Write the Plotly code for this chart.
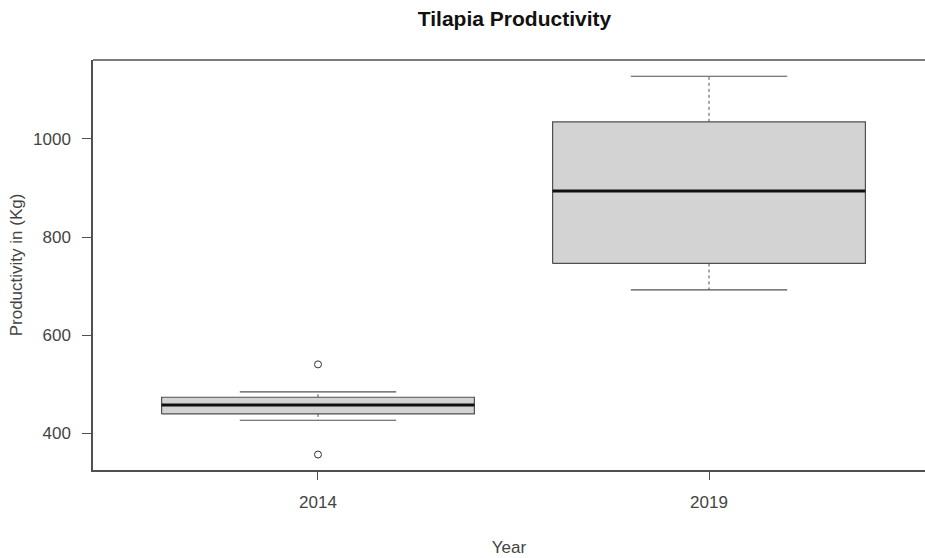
import plotly.graph_objects as go

# Summary statistics of tilapia productivity (kg) by year
years = ["2014", "2019"]
positions = [1, 2]
lower_whisker = [426, 692]
q1 = [439, 746]
median = [457, 894]
q3 = [473, 1035]
upper_whisker = [484, 1128]
outlier_year = [1, 1]
outlier_value = [540, 356]

BOX_HALF = 0.4      # half box width in axis units
CAP_HALF = 0.2      # half whisker-cap width
FONT = "Liberation Sans, Arial, sans-serif"
LINE = "#505050"
TEXT = "#444444"

fig = go.Figure()

for x, lw, a, m, b, uw in zip(positions, lower_whisker, q1, median, q3, upper_whisker):
    # box body
    fig.add_trace(go.Scatter(
        x=[x - BOX_HALF, x + BOX_HALF, x + BOX_HALF, x - BOX_HALF, x - BOX_HALF],
        y=[a, a, b, b, a], mode="lines", fill="toself",
        fillcolor="#d3d3d3", line=dict(color=LINE, width=1.2),
        hoverinfo="skip", showlegend=False))
    # median
    fig.add_trace(go.Scatter(
        x=[x - BOX_HALF, x + BOX_HALF], y=[m, m], mode="lines",
        line=dict(color="#111111", width=3), showlegend=False))
    # dashed whiskers
    for y0, y1 in ((a, lw), (b, uw)):
        fig.add_trace(go.Scatter(
            x=[x, x], y=[y0, y1], mode="lines",
            line=dict(color=LINE, width=1, dash="3px,3px"), showlegend=False))
    # caps
    for yc in (lw, uw):
        fig.add_trace(go.Scatter(
            x=[x - CAP_HALF, x + CAP_HALF], y=[yc, yc], mode="lines",
            line=dict(color=LINE, width=1.2), showlegend=False))

# outliers
fig.add_trace(go.Scatter(
    x=outlier_year, y=outlier_value, mode="markers",
    marker=dict(symbol="circle-open", size=7, color="#333333", line=dict(width=1)),
    showlegend=False))

# top edge of the plotting frame
fig.add_shape(type="line", xref="paper", yref="paper", x0=0, x1=1, y0=1, y1=1,
              line=dict(color=LINE, width=1.5))

fig.update_layout(
    width=925, height=558,
    margin=dict(l=93, r=0, t=60, b=88),
    paper_bgcolor="white", plot_bgcolor="white",
    font=dict(family=FONT, size=17, color=TEXT),
    title=dict(text="<b>Tilapia Productivity</b>", x=(93 + 936) / 2 / 925, xanchor="center",
               y=1 - 19 / 558, yanchor="middle",
               font=dict(family=FONT, size=21, color="#111111")),
    xaxis=dict(range=[0.4246, 2.5524], tickmode="array", tickvals=positions, ticktext=years,
               showgrid=False, zeroline=False, showline=True, linecolor=LINE, linewidth=1.5,
               mirror=False, ticks="outside", ticklen=8, tickcolor=LINE,
               ticklabelstandoff=8, tickfont=dict(size=17, color=TEXT),
               title=dict(text="Year", standoff=30, font=dict(size=17, color=TEXT))),
    yaxis=dict(range=[324.5, 1161.2], tickvals=[400, 600, 800, 1000],
               showgrid=False, zeroline=False, showline=True, linecolor=LINE, linewidth=1.5,
               ticks="outside", ticklen=9, tickcolor=LINE,
               ticklabelstandoff=8, tickfont=dict(size=17, color=TEXT),
               title=dict(text="Productivity in (Kg)", standoff=6, font=dict(size=17, color=TEXT))),
)

fig.write_html("out.html")
